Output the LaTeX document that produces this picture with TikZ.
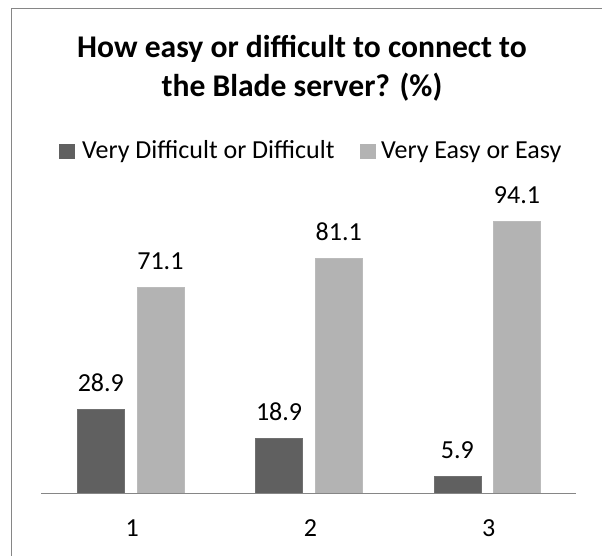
\documentclass[tikz,border=0pt]{standalone}
\usepackage{fontspec}
\setmainfont{Carlito}
\definecolor{darkbar}{RGB}{96,96,96}
\definecolor{lightbar}{RGB}{179,179,179}
\definecolor{framegray}{RGB}{134,134,134}
\begin{document}
\begin{tikzpicture}[x=1pt,y=-1pt,
  titletext/.style={font=\fontsize{31.6}{36}\selectfont\bfseries, anchor=base, inner sep=0pt},
  legtext/.style={font=\fontsize{26}{30}\selectfont, anchor=base west, inner sep=0pt},
  valtext/.style={font=\fontsize{26}{30}\selectfont, anchor=base, inner sep=0pt},
  cattext/.style={font=\fontsize{26}{30}\selectfont, anchor=base, inner sep=0pt},
  darkbox/.style={fill=darkbar, draw=darkbar!90!white, line width=0.6pt},
  lightbox/.style={fill=lightbar, draw=lightbar!90!white, line width=0.6pt}]
\useasboundingbox (0,0) rectangle (602,556);
\fill[white] (0,0) rectangle (602,556);
% frame (partly cropped)
\draw[framegray, line width=1.5pt] (11.5,560) -- (11.5,8.5) -- (606,8.5);
% title
\node[titletext] (t1) at (302,57.7) {How easy or difficult to connect to};
\node[titletext] (t2) at (302,96.6) {the Blade server? (\%)};
% legend
\fill[darkbar] (59,144) rectangle (75,159);
\node[legtext] (l1) at (82,158.3) {Very Difficult or Difficult};
\fill[lightbar] (360,144) rectangle (376,159);
\node[legtext] (l2) at (381,158.3) {Very Easy or Easy};
% bars
\def\base{493.3}
\def\sc{2.893}
\foreach \c/\d/\e/\n in {130.6/28.9/71.1/1, 308.9/18.9/81.1/2, 487.2/5.9/94.1/3}{
  \draw[darkbox] (\c-53.3,\base) rectangle (\c-6.3,\base-\sc*\d);
  \draw[lightbox] (\c+6.3,\base) rectangle (\c+53.3,\base-\sc*\e);
  \node[valtext] (vd\n) at (\c-29.8,\base-\sc*\d-18) {\d};
  \node[valtext] (ve\n) at (\c+29.8,\base-\sc*\e-18) {\e};
  \node[cattext] (c\n) at (\c+1.5,536.7) {\n};
}
% axis
\draw[framegray, line width=1.5pt] (41,\base) -- (576,\base);
\end{tikzpicture}
\end{document}
